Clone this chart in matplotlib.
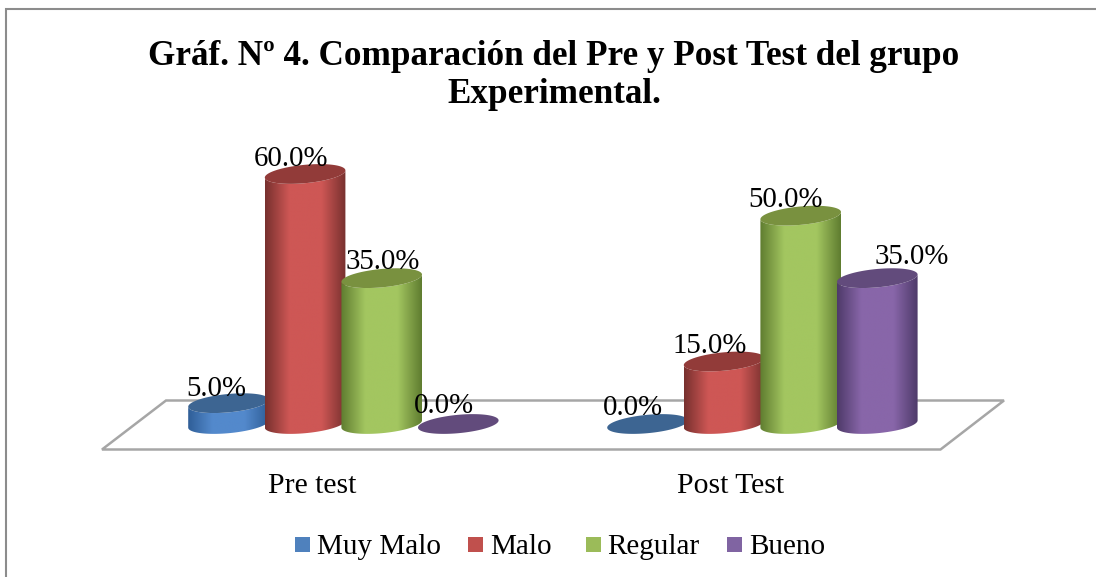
import numpy as np
import matplotlib
matplotlib.use("Agg")
import matplotlib.pyplot as plt
from matplotlib.colors import LinearSegmentedColormap
from matplotlib.lines import Line2D
from matplotlib.patches import Polygon, Rectangle

# ---- data ----
categories = ["Pre test", "Post Test"]
series_names = ["Muy Malo", "Malo", "Regular", "Bueno"]
muy_malo = [5.0, 0.0]
malo = [60.0, 15.0]
regular = [35.0, 50.0]
bueno = [0.0, 35.0]
series_values = [muy_malo, malo, regular, bueno]

# ---- styles ----
W, H = 1096, 577
PX_PER_UNIT = 4.167
BASE_PX = 424
GROUP_PX = 419
GROUP0_PX = 343.4
SLOT = 76.6 / GROUP_PX
light = ["#5389CC", "#CE5755", "#A3C660", "#8866A9"]
dark = ["#2F5E97", "#77302E", "#5F7C30", "#4E3A69"]
top_c = ["#3D6592", "#923B39", "#79913F", "#624B7C"]
swatch = ["#4F81BD", "#C0504D", "#9BBB59", "#8064A2"]
label_off = [[(-12, 14), (-15, 16)], [(-14, 15), (-14, 15)],
             [(1, 16), (-15, 16)], [(-14, 18), (34, 21)]]

fig = plt.figure(figsize=(W / 100, H / 100), dpi=100, facecolor="white")
plt.rcParams["font.family"] = ["Liberation Serif"]
ax = fig.add_axes([0, 0, 1, 1])
ax.set_facecolor("none")
xlim = (-GROUP0_PX / GROUP_PX, (W - GROUP0_PX) / GROUP_PX)
ylim = ((BASE_PX - H) / PX_PER_UNIT, BASE_PX / PX_PER_UNIT)
for s in ax.spines.values():
    s.set_visible(False)
ax.set_yticks([])


def px(x, y):
    return ((x - GROUP0_PX) / GROUP_PX, (BASE_PX - y) / PX_PER_UNIT)


# chart border: only the top and left edges are inside the picture
fig.add_artist(Line2D([6 / W, 6 / W, 1], [0, 1 - 9 / H, 1 - 9 / H],
                      transform=fig.transFigure, color="#8C8C8C", linewidth=1.5,
                      solid_joinstyle="miter"))

# floor plane
ax.add_patch(Polygon([px(102, 449.5), px(940.5, 449.5), px(1004, 400.5), px(166, 400.5)],
                     closed=True, facecolor="white", edgecolor="#A6A6A6",
                     linewidth=1.8, zorder=1))

A = 40.3 / GROUP_PX
B = 9.2 / PX_PER_UNIT
S = 3.6 / PX_PER_UNIT


def ell(cx, cy, t):
    return cx + A * np.cos(t), cy + B * np.sin(t) + S * np.cos(t)


t_full = np.linspace(0, 2 * np.pi, 121)
t_low = np.linspace(0, -np.pi, 61)
z = 2
for g in range(len(categories)):
    for j, vals in enumerate(series_values):
        v = vals[g]
        cx = g + (j - 1.5) * SLOT
        if v > 0:
            bx, by = ell(cx, 0, t_low)
            tx, ty = ell(cx, v, t_low[::-1])
            verts = np.column_stack([np.r_[bx, tx], np.r_[by, ty]])
            clip = Polygon(verts, closed=True, facecolor="none", edgecolor="none", zorder=z)
            ax.add_patch(clip)
            cmap = LinearSegmentedColormap.from_list(
                "c", [(0, dark[j]), (0.3, light[j]), (0.7, light[j]), (1, dark[j])])
            im = ax.imshow(np.linspace(0, 1, 256)[None, :], cmap=cmap, aspect="auto",
                           extent=(cx - A, cx + A, by.min() - 1, ty.max() + 1),
                           interpolation="bilinear", zorder=z)
            im.set_clip_path(clip)
        ex, ey = ell(cx, v, t_full)
        ax.add_patch(Polygon(np.column_stack([ex, ey]), closed=True,
                             facecolor=top_c[j], edgecolor="none", zorder=z + 0.5))
        z += 1

ax.set_xlim(xlim)
ax.set_ylim(ylim)

# data labels
for j, vals in enumerate(series_values):
    for g, v in enumerate(vals):
        cx = g + (j - 1.5) * SLOT
        dx, dy = label_off[j][g]
        ax.annotate(f"{v:.1f}%", (cx, v), xytext=(dx * 0.72, dy * 0.72),
                    textcoords="offset points", ha="center", va="center",
                    fontsize=20.8, color="black", zorder=50)

# category labels
ax.set_xticks(np.arange(len(categories)) - 31.5 / GROUP_PX)
ax.set_xticklabels(categories, fontsize=21.3)
ax.tick_params(axis="x", length=0, direction="in", pad=-(H - 473) * 0.72)
for lab in ax.get_xticklabels():
    lab.set_verticalalignment("top")

# title
fig.text(554 / W, 1 - 75.5 / H,
         "Gráf. Nº 4. Comparación del Pre y Post Test del grupo\nExperimental.",
         ha="center", va="center", fontsize=25.3, fontweight="bold",
         linespacing=1.23, color="black")

# legend
sw_x = [295, 468, 586, 727]
tx_x = [317, 490, 607, 749]
for name, c, sx, tx in zip(series_names, swatch, sw_x, tx_x):
    fig.add_artist(Rectangle((sx / W, 1 - 552 / H), 15 / W, 15 / H,
                             transform=fig.transFigure, facecolor=c, edgecolor="none"))
    fig.text(tx / W, 1 - 547 / H, name, ha="left", va="center", fontsize=21, color="black")

fig.savefig("out.png", dpi=100, facecolor="white")
